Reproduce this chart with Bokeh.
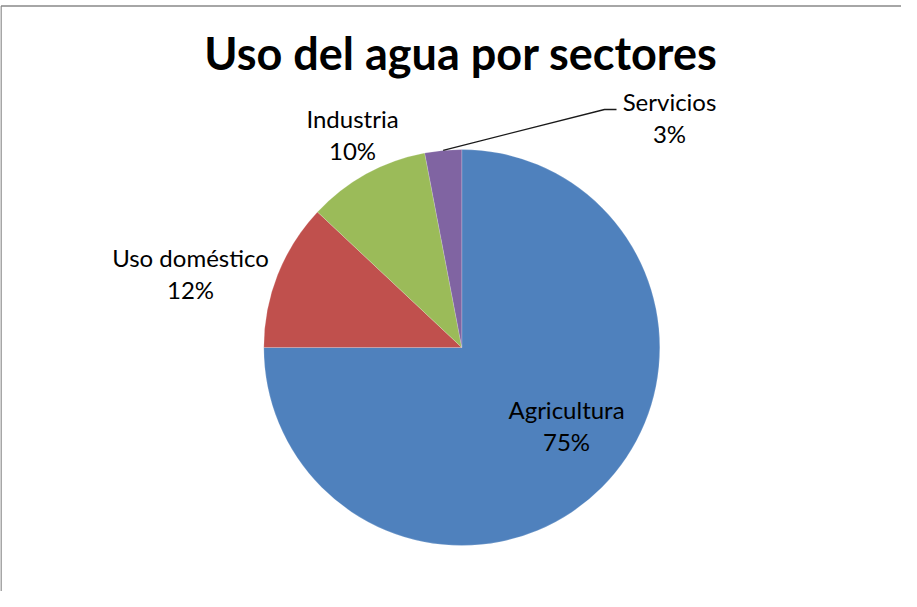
import math
from bokeh.plotting import figure
from bokeh.models import Range1d, ColumnDataSource
from bokeh.core.properties import value
from bokeh.embed import file_html
from bokeh.resources import INLINE

# ---- data ----
categories = ["Agricultura", "Uso doméstico", "Industria", "Servicios"]
values = [75, 12, 10, 3]
colors = ["#4F81BD", "#C0504D", "#9BBB59", "#8064A2"]
title_text = "Uso del agua por sectores"

# ---- layout (page pixels -> data units, 1 unit = 1 px) ----
W, H = 901, 591
def X(px):
    return px - 8
def Y(py):
    return 599 - py

cx, cy, R = X(469.3), Y(355), 198
FONT = "Lato"
title_size = 45
label_size = 24
BASE_K = 0.42          # empirical baseline correction (fraction of font size)
line_gap = 32
# label centre x and first-line baseline (page px), per category
label_pos = [(574, 427), (198, 275), (360, 136), (677, 119)]
leader_mid = (612, 117)
leader_end = (624, 117)

total = float(sum(values))
fracs = [v / total for v in values]
starts, ends, cum = [], [], 0.0
for f in fracs:
    starts.append(math.pi / 2 - 2 * math.pi * cum)
    cum += f
    ends.append(math.pi / 2 - 2 * math.pi * cum)

src = ColumnDataSource(dict(cat=categories, val=values, color=colors,
                            start=starts, end=ends))

p = figure(width=W, height=H, x_range=Range1d(0, W), y_range=Range1d(0, H),
           output_backend="svg", toolbar_location=None, min_border=0,
           x_axis_type=None, y_axis_type=None)
p.grid.visible = False
p.outline_line_color = None
p.background_fill_color = "white"
p.border_fill_color = "white"

# chart border (left and top edges visible)
p.line(x=[0.5, 0.5], y=[Y(13.5), -5], line_color="#888888", line_width=1.5)
p.line(x=[0.5, W + 5], y=[Y(13.5), Y(13.5)], line_color="#888888", line_width=1.5)

p.wedge(x=cx, y=cy, radius=R, start_angle="start", end_angle="end",
        direction="clock", fill_color="color", line_color="white",
        line_width=0.5, line_alpha=0.35, source=src)

# leader line for smallest slice
mid_s = (starts[3] + ends[3]) / 2
sx, sy = cx + R * math.cos(mid_s), cy + R * math.sin(mid_s)
p.line(x=[sx, X(leader_mid[0]), X(leader_end[0])],
       y=[sy, Y(leader_mid[1]), Y(leader_end[1])],
       line_color="#1a1a1a", line_width=1.3)

# title
p.text(x=[X(468.5)], y=[Y(79 - BASE_K * title_size)], text=[title_text],
       text_align="center", text_baseline="alphabetic", text_font=value(FONT),
       text_font_style="bold", text_font_size=f"{title_size}px", text_color="black")

# labels
shift = BASE_K * label_size
names_x = [X(lx) for lx, ly in label_pos]
names_y = [Y(ly - shift) for lx, ly in label_pos]
pct_y = [Y(ly + line_gap - shift) for lx, ly in label_pos]
pcts = [f"{round(f * 100)}%" for f in fracs]
p.text(x=names_x, y=names_y, text=categories, text_align="center",
       text_baseline="alphabetic", text_font=value(FONT),
       text_font_size=f"{label_size}px", text_color="black")
p.text(x=names_x, y=pct_y, text=pcts, text_align="center",
       text_baseline="alphabetic", text_font=value(FONT),
       text_font_size=f"{label_size}px", text_color="black")

open("out.html", "w").write(file_html(p, INLINE))
